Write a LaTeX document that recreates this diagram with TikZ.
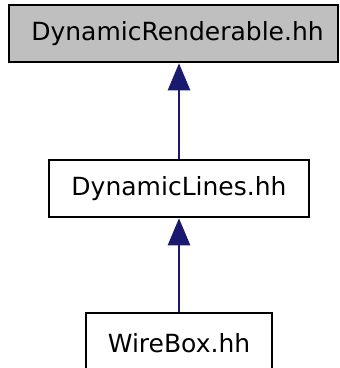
\documentclass[tikz,border=0pt]{standalone}
\usepackage{fontspec}
\setmainfont{DejaVu Sans}
\usetikzlibrary{arrows.meta}
\definecolor{edgeblue}{HTML}{191970}
\begin{document}
\begin{tikzpicture}[x=1pt,y=-1pt,
  filebox/.style={draw=black,line width=2.5pt,inner sep=0pt,font=\fontsize{25}{30}\selectfont},
  dep/.style={draw=edgeblue,line width=2.5pt,-{Triangle[length=27pt,width=22pt]}}]
\useasboundingbox (0,0) rectangle (340,368);
\node[filebox,fill={rgb,255:red,191;green,191;blue,191},minimum width=329pt,minimum height=57pt] (r) at (173.5,33.5) {\hspace*{8pt}DynamicRenderable.hh};
\node[filebox,fill=white,minimum width=260pt,minimum height=57pt] (l) at (179,188.5) {DynamicLines.hh};
\node[filebox,fill=white,minimum width=186pt,minimum height=60pt] (w) at (179,343) {WireBox.hh};
\draw[dep] (l.north) -- (l.north |- r.south);
\draw[dep] (w.north) -- (l.south);
\end{tikzpicture}
\end{document}
